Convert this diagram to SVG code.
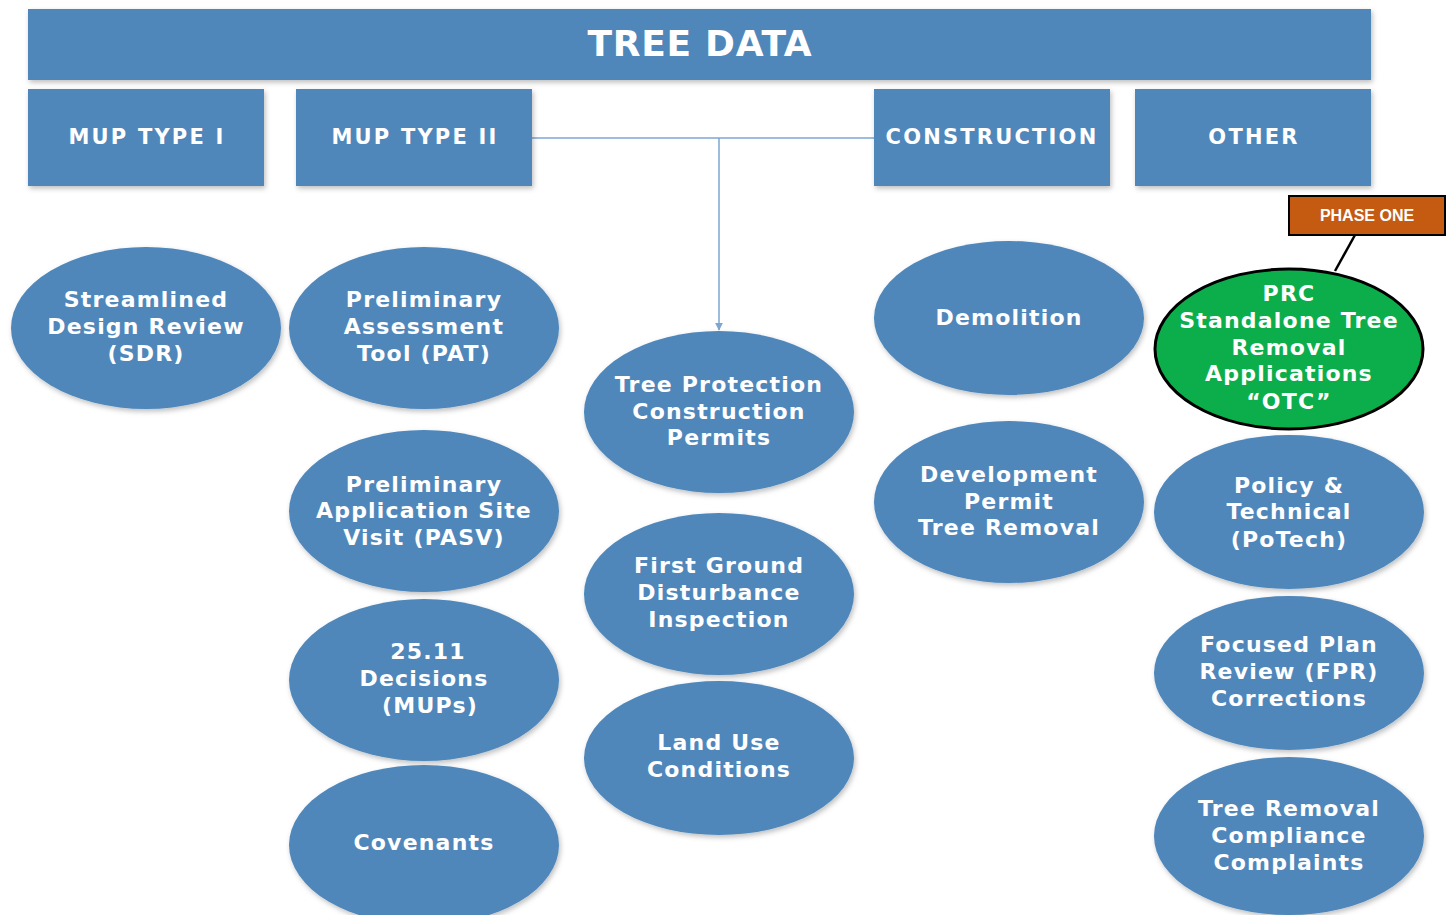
<svg xmlns="http://www.w3.org/2000/svg" width="1450" height="915" viewBox="0 0 1450 915">
<defs>
<style>
.box{fill:#4F87BB;}
.ell{fill:#4F87BB;}
.t{font-family:"DejaVu Sans",Verdana,sans-serif;font-weight:bold;fill:#fff;text-anchor:middle;}
.e{font-size:22px;letter-spacing:1.2px;}
.h{font-size:21px;letter-spacing:2.2px;}
.conn{stroke:#7EA6D3;stroke-width:1.5;fill:none;}
</style>
<filter id="sh" x="-10%" y="-10%" width="125%" height="130%">
<feDropShadow dx="1.5" dy="2.5" stdDeviation="2.5" flood-color="#000" flood-opacity="0.25"/>
</filter>
<marker id="arr" viewBox="0 0 10 10" refX="9" refY="5" markerWidth="8" markerHeight="8" markerUnits="userSpaceOnUse" orient="auto">
<path d="M0,0 L10,5 L0,10 z" fill="#7EA6D3"/>
</marker>
</defs>
<rect width="1450" height="915" fill="#fff"/>

<g id="connectors">
<path class="conn" d="M532,138 H874"/>
<path class="conn" d="M719,138 V330" marker-end="url(#arr)"/>
<line x1="1355" y1="235" x2="1335" y2="271" stroke="#000" stroke-width="2.5"/>
</g>

<g id="tree-data">
<rect class="box" x="28" y="9" width="1343" height="71" filter="url(#sh)"/>
<text class="t" x="700" y="56" font-size="36" letter-spacing="0.7">TREE DATA</text>
</g>
<g id="mup1">
<rect class="box" x="28" y="89" width="236" height="97" filter="url(#sh)"/>
<text class="t h" x="147" y="144">MUP TYPE I</text>
</g>
<g id="mup2">
<rect class="box" x="296" y="89" width="236" height="97" filter="url(#sh)"/>
<text class="t h" x="415" y="144">MUP TYPE II</text>
</g>
<g id="construction">
<rect class="box" x="874" y="89" width="236" height="97" filter="url(#sh)"/>
<text class="t h" x="992" y="144">CONSTRUCTION</text>
</g>
<g id="other">
<rect class="box" x="1135" y="89" width="236" height="97" filter="url(#sh)"/>
<text class="t h" x="1254" y="144">OTHER</text>
</g>

<g id="phase-one">
<rect x="1289" y="196" width="156" height="39" fill="#C55A11" stroke="#000" stroke-width="2"/>
<text x="1367" y="221" font-family="'Liberation Sans',Arial,sans-serif" font-weight="bold" font-size="16" fill="#fff" text-anchor="middle">PHASE ONE</text>
</g>

<g id="sdr">
<ellipse class="ell" cx="146" cy="328" rx="135" ry="81" filter="url(#sh)"/>
<text class="t e" x="146" y="307">Streamlined</text>
<text class="t e" x="146" y="334">Design Review</text>
<text class="t e" x="146" y="361">(SDR)</text>
</g>
<g id="pat">
<ellipse class="ell" cx="424" cy="328" rx="135" ry="81" filter="url(#sh)"/>
<text class="t e" x="424" y="307">Preliminary</text>
<text class="t e" x="424" y="334">Assessment</text>
<text class="t e" x="424" y="361">Tool (PAT)</text>
</g>
<g id="pasv">
<ellipse class="ell" cx="424" cy="511" rx="135" ry="81" filter="url(#sh)"/>
<text class="t e" x="424" y="492">Preliminary</text>
<text class="t e" x="424" y="518">Application Site</text>
<text class="t e" x="424" y="545">Visit (PASV)</text>
</g>
<g id="decisions">
<ellipse class="ell" cx="424" cy="680" rx="135" ry="81" filter="url(#sh)"/>
<text class="t e" x="428" y="659">25.11</text>
<text class="t e" x="424" y="686">Decisions</text>
<text class="t e" x="430" y="713">(MUPs)</text>
</g>
<g id="covenants">
<ellipse class="ell" cx="424" cy="845" rx="135" ry="80" filter="url(#sh)"/>
<text class="t e" x="424" y="850">Covenants</text>
</g>
<g id="tpcp">
<ellipse class="ell" cx="719" cy="412" rx="135" ry="81" filter="url(#sh)"/>
<text class="t e" x="719" y="392">Tree Protection</text>
<text class="t e" x="719" y="419">Construction</text>
<text class="t e" x="719" y="445">Permits</text>
</g>
<g id="first-ground">
<ellipse class="ell" cx="719" cy="594" rx="135" ry="81" filter="url(#sh)"/>
<text class="t e" x="719" y="573">First Ground</text>
<text class="t e" x="719" y="600">Disturbance</text>
<text class="t e" x="719" y="627">Inspection</text>
</g>
<g id="land-use">
<ellipse class="ell" cx="719" cy="758" rx="135" ry="77" filter="url(#sh)"/>
<text class="t e" x="719" y="750">Land Use</text>
<text class="t e" x="719" y="777">Conditions</text>
</g>
<g id="demolition">
<ellipse class="ell" cx="1009" cy="318" rx="135" ry="77" filter="url(#sh)"/>
<text class="t e" x="1009" y="325">Demolition</text>
</g>
<g id="dev-permit">
<ellipse class="ell" cx="1009" cy="502" rx="135" ry="81" filter="url(#sh)"/>
<text class="t e" x="1009" y="482">Development</text>
<text class="t e" x="1009" y="509">Permit</text>
<text class="t e" x="1009" y="535">Tree Removal</text>
</g>
<g id="prc">
<ellipse cx="1289" cy="349" rx="134" ry="80" fill="#0CAE4C" stroke="#000" stroke-width="3"/>
<text class="t e" x="1289" y="301">PRC</text>
<text class="t e" x="1289" y="328">Standalone Tree</text>
<text class="t e" x="1289" y="355">Removal</text>
<text class="t e" x="1289" y="381">Applications</text>
<text class="t e" x="1289" y="409">“OTC”</text>
</g>
<g id="potech">
<ellipse class="ell" cx="1289" cy="512" rx="135" ry="77" filter="url(#sh)"/>
<text class="t e" x="1289" y="493">Policy &amp;</text>
<text class="t e" x="1289" y="519">Technical</text>
<text class="t e" x="1289" y="547">(PoTech)</text>
</g>
<g id="fpr">
<ellipse class="ell" cx="1289" cy="673" rx="135" ry="77" filter="url(#sh)"/>
<text class="t e" x="1289" y="652">Focused Plan</text>
<text class="t e" x="1289" y="679">Review (FPR)</text>
<text class="t e" x="1289" y="706">Corrections</text>
</g>
<g id="trcc">
<ellipse class="ell" cx="1289" cy="836" rx="135" ry="79" filter="url(#sh)"/>
<text class="t e" x="1289" y="816">Tree Removal</text>
<text class="t e" x="1289" y="843">Compliance</text>
<text class="t e" x="1289" y="870">Complaints</text>
</g>
</svg>
